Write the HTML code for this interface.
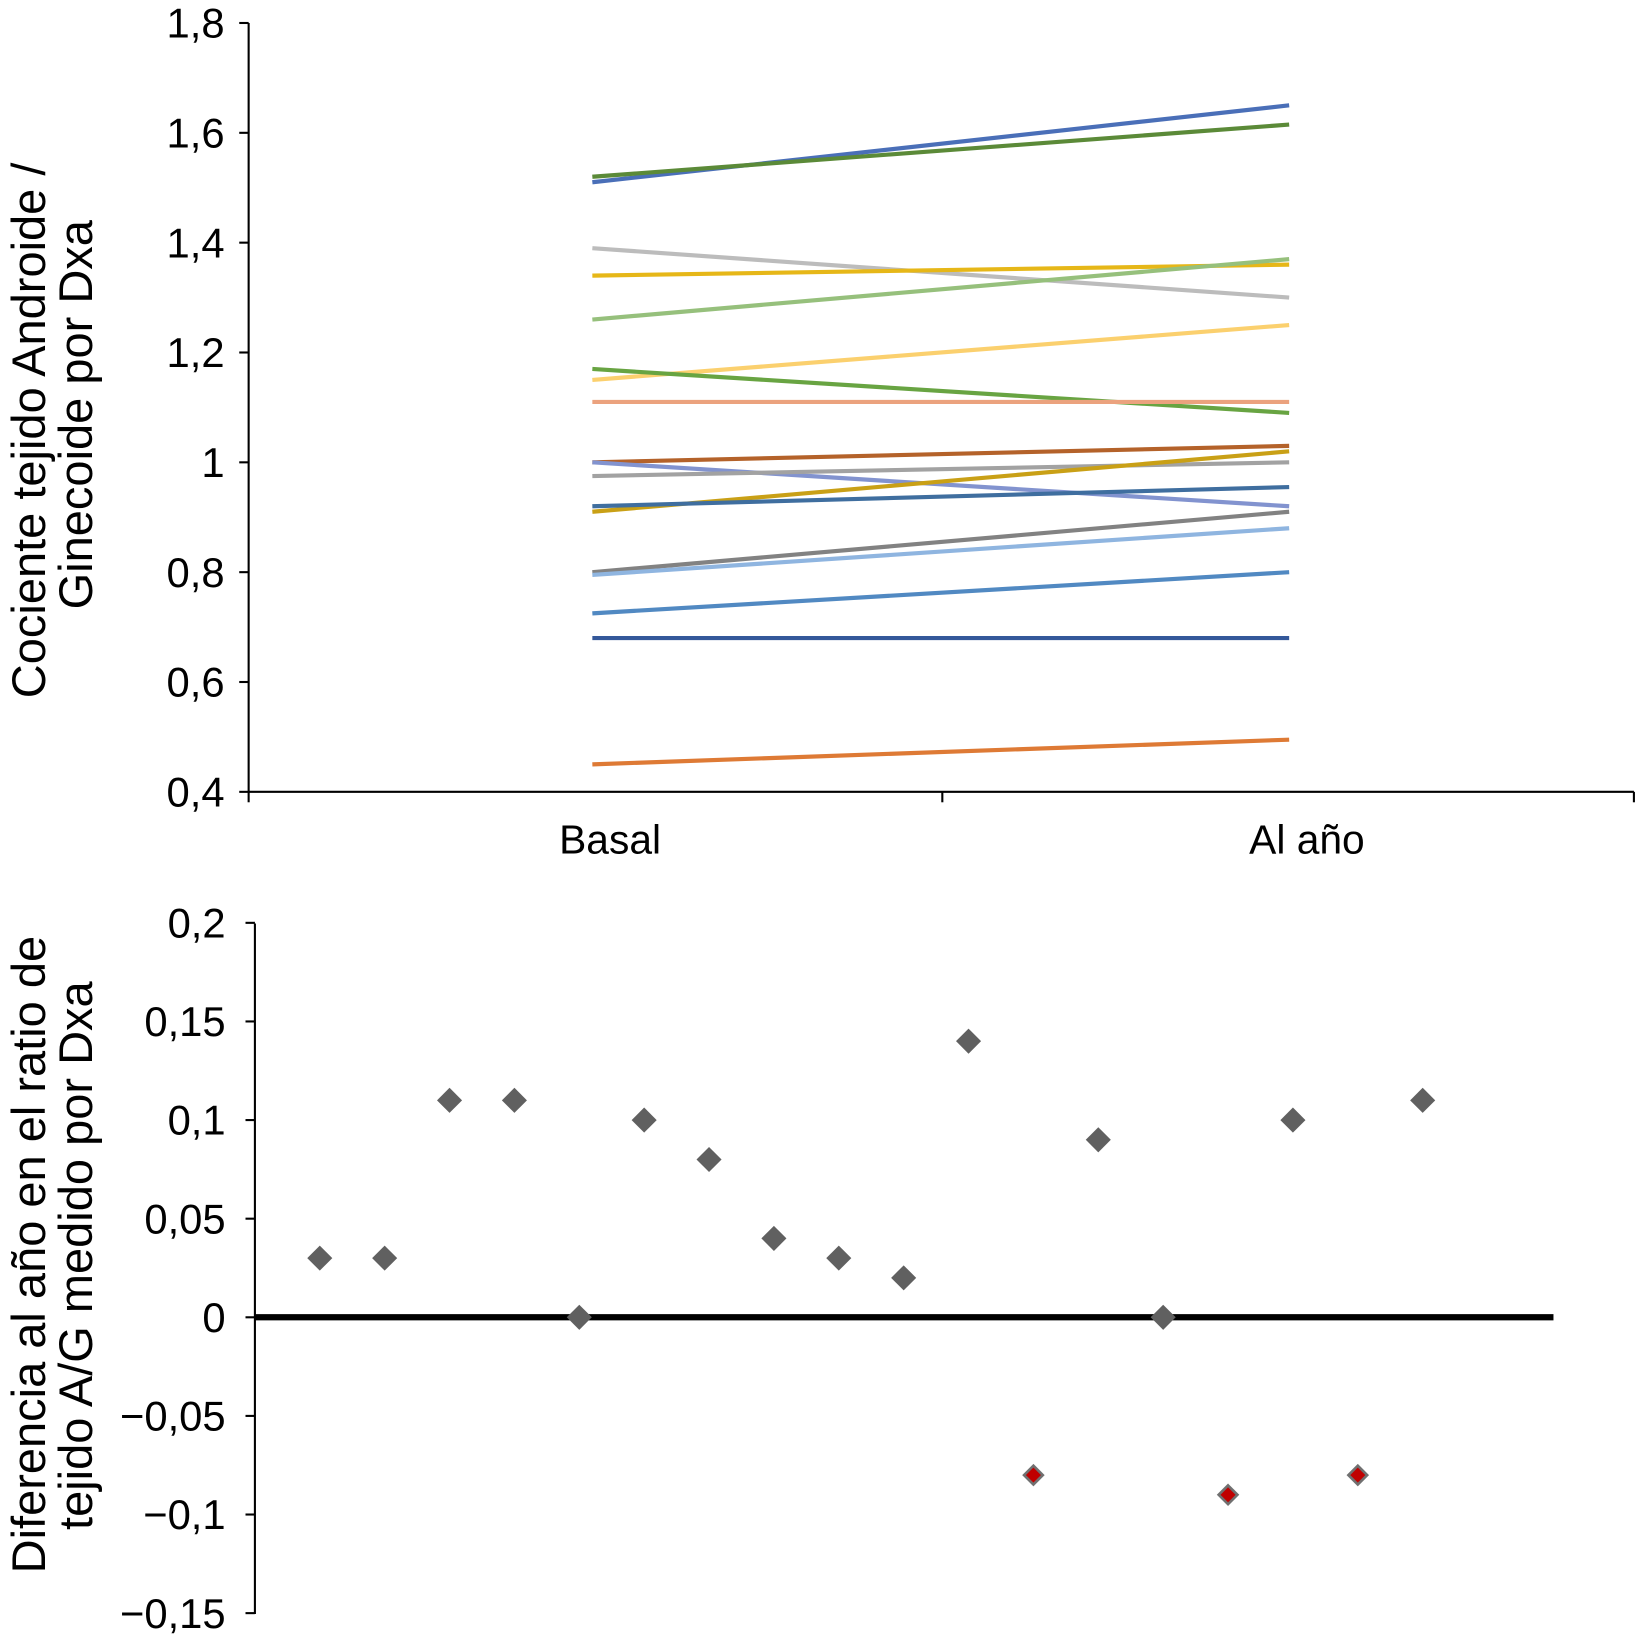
<!DOCTYPE html>
<html><head><meta charset="utf-8"><style>
html,body{margin:0;padding:0;background:#fff;}
svg{display:block;font-family:"Liberation Sans",Arial,sans-serif;}
</style></head><body>
<svg id="chart" width="1636" height="1638" viewBox="0 0 1566 1568" preserveAspectRatio="none" xmlns="http://www.w3.org/2000/svg">
<g id="topChart"></g>
<g id="botChart"></g>
</svg>
<script>
const timepoints = ["Basal","Al año"];
const basalValues = [1.51,1.52,1.39,1.34,1.26,1.15,1.17,1.11,1.00,1.00,0.975,0.91,0.92,0.80,0.795,0.725,0.68,0.45];
const yearValues  = [1.65,1.615,1.30,1.36,1.37,1.25,1.09,1.11,1.03,0.92,1.00,1.02,0.955,0.91,0.88,0.80,0.68,0.495];
const lineColors = ["#4a6fb8","#5b8a38","#bcbcbc","#e6b718","#96c07c","#fbd06e","#68a442","#eba27e","#b4622a","#8293cf","#a2a2a2","#c9a016","#3f6e9f","#828282","#8fb5e0","#5189c2","#34589a","#de7a35"];
const topTicks = ["0,4","0,6","0,8","1","1,2","1,4","1,6","1,8"];
const diffValues = [0.03,0.03,0.11,0.11,0,0.10,0.08,0.04,0.03,0.02,0.14,-0.08,0.09,0,-0.09,0.10,-0.08,0.11];
const botTicks = ["−0,15","−0,1","−0,05","0","0,05","0,1","0,15","0,2"];
const botTickVals = [-0.15,-0.1,-0.05,0,0.05,0.1,0.15,0.2];

const NS="http://www.w3.org/2000/svg";
function mk(parent,tag,attrs,text){const e=document.createElementNS(NS,tag);for(const k in attrs)e.setAttribute(k,attrs[k]);if(text!==undefined)e.textContent=text;parent.appendChild(e);return e;}

// top chart
const topG=document.getElementById('topChart');
const yT=v=>758-(v-0.4)/1.4*736;
const xT=i=>567+i*667;
let ax=mk(topG,'line',{x1:238,y1:22,x2:238,y2:758,stroke:'#000','stroke-width':2});


ax=mk(topG,'line',{x1:238,y1:758,x2:1564,y2:758,stroke:'#000','stroke-width':2});


[238,902,1564].forEach(x=>{mk(topG,'line',{x1:x,y1:758,x2:x,y2:768,stroke:'#000','stroke-width':2});});
topTicks.forEach((t,i)=>{const v=0.4+i*0.2;const y=yT(v);
 mk(topG,'line',{x1:229,y1:y,x2:238,y2:y,stroke:'#000','stroke-width':2});
 const e=mk(topG,'text',{x:215,y:y+14,'text-anchor':'end','font-size':40},t);
 
 });
timepoints.forEach((t,i)=>{const e=mk(topG,'text',{x:xT(i)+17,y:817,'text-anchor':'middle','font-size':39},t);
 
 });
basalValues.forEach((b,i)=>{const l=mk(topG,'line',{x1:xT(0),y1:yT(b),x2:xT(1),y2:yT(yearValues[i]),stroke:lineColors[i],'stroke-width':4});
 
 });
let tt=mk(topG,'text',{transform:'translate(43,412) rotate(-90)','text-anchor':'middle','font-size':45},'Cociente tejido Androide /');


tt=mk(topG,'text',{transform:'translate(88,397) rotate(-90)','text-anchor':'middle','font-size':45},'Ginecoide por Dxa');



// bottom chart
const botG=document.getElementById('botChart');
const yB=v=>1261-v/0.05*94.4;
const xB=i=>244+(i+1)*62.1;
ax=mk(botG,'line',{x1:244,y1:884,x2:244,y2:1545,stroke:'#000','stroke-width':2});


botTickVals.forEach((v,i)=>{const y=yB(v);
 mk(botG,'line',{x1:235,y1:y,x2:244,y2:y,stroke:'#000','stroke-width':2});
 const e=mk(botG,'text',{x:216,y:y+14,'text-anchor':'end','font-size':40},botTicks[i]);
 
 });
ax=mk(botG,'line',{x1:244,y1:yB(0),x2:1487,y2:yB(0),stroke:'#000','stroke-width':6});


diffValues.forEach((v,i)=>{const x=xB(i),y=yB(v);let p;
 if(v<0){const s=9;p=mk(botG,'polygon',{points:`${x},${y-s} ${x+s},${y} ${x},${y+s} ${x-s},${y}`,fill:'#c00000',stroke:'#707070','stroke-width':2.5});}
 else{const s=12;p=mk(botG,'polygon',{points:`${x},${y-s} ${x+s},${y} ${x},${y+s} ${x-s},${y}`,fill:'#606060'});}
 
 });
tt=mk(botG,'text',{transform:'translate(43,1201) rotate(-90)','text-anchor':'middle','font-size':45},'Diferencia al año en el ratio de');


tt=mk(botG,'text',{transform:'translate(88,1202) rotate(-90)','text-anchor':'middle','font-size':45},'tejido A/G medido por Dxa');


</script>
</body></html>
